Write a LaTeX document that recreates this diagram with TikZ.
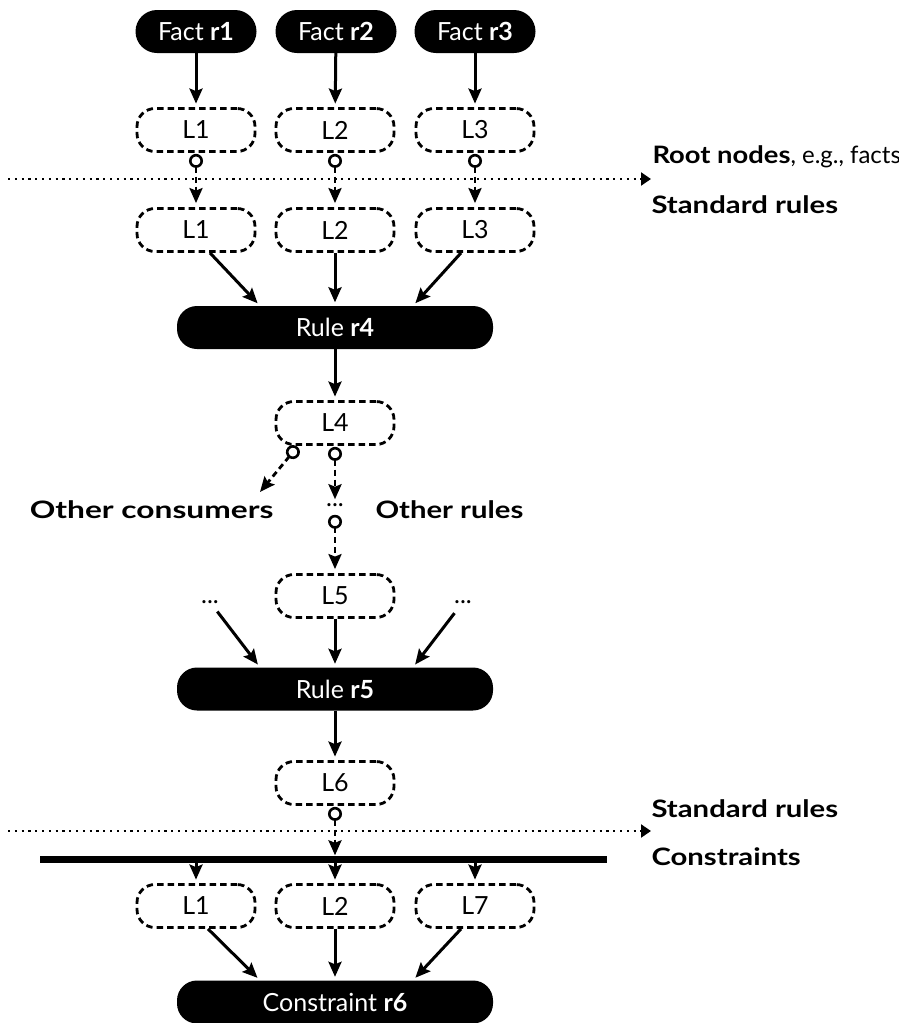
\documentclass[tikz,border=0pt]{standalone}
\usepackage{fontspec}
\setmainfont{Lato}
\newfontfamily\widefont[FakeStretch=1.22]{Lato}
\newfontfamily\rootfont[FakeStretch=1.14]{Lato}
\newfontfamily\widerfont[FakeStretch=1.32]{Lato}
\newcommand\heavy[1]{{\widefont\bfseries #1}}
\newcommand\heavier[1]{{\widerfont\bfseries #1}}
\usetikzlibrary{arrows.meta}

\tikzset{
  x=1pt, y=-1pt,
  every node/.style={font=\fontsize{25}{29}\selectfont},
  pill/.style={fill=black, text=white, inner sep=0pt, minimum height=43pt},
  fact/.style={pill, rounded corners=21.5pt, minimum width=121pt},
  rulebox/.style={pill, rounded corners=20pt, minimum width=316pt},
  lit/.style={draw, line width=2.8pt, dash pattern=on 6.5pt off 4pt,
    rounded corners=18pt, minimum width=118pt, minimum height=43pt, inner sep=0pt},
  tip/.tip={Stealth[length=15pt, width=13pt, inset=2.5pt]},
  solidarrow/.style={line width=3pt, -tip, shorten >=3.5pt},
  pass/.style={line width=2.8pt, dash pattern=on 6pt off 4pt,
    {Circle[open, length=14pt, width=14pt, line width=2.6pt]}-tip,
    shorten <=1pt, shorten >=4pt},
  dotline/.style={line width=2.2pt, dash pattern=on 2.2pt off 4.6pt,
    -{Triangle[length=10pt, width=13pt]}},
  lab/.style={font=\fontsize{24}{28}\selectfont},
  ellip/.style={inner sep=3pt}
}

\begin{document}
\begin{tikzpicture}
\useasboundingbox (0,0) rectangle (899,1023);

% facts
\node[fact] (f1) at (196,31.5) {Fact \textbf{r1}};
\node[fact] (f2) at (336,31.5) {Fact \textbf{r2}};
\node[fact] (f3) at (475,31.5) {Fact \textbf{r3}};

% literals produced by the facts
\node[lit] (a1) at (196,130) {L1};
\node[lit] (a2) at (335,130) {L2};
\node[lit] (a3) at (475,130) {L3};

% literals consumed by rule r4
\node[lit] (b1) at (196,230) {L1};
\node[lit] (b2) at (335,230) {L2};
\node[lit] (b3) at (475,230) {L3};

\node[rulebox] (r4) at (335,327.5) {Rule \textbf{r4}};
\node[lit] (l4) at (335,423) {L4};

\node[ellip] (m1) at (335,505) {...};
\coordinate (oc) at (260,492);
\node[lab, anchor=base east] (ocl) at (277,518) {\heavier{Other consumers}};
\node[lab, anchor=base west] (orl) at (372,518) {\heavy{Other rules}};

\node[lit] (l5) at (335,596) {L5};
\node[ellip] (dl) at (210,602) {...};
\node[ellip] (dr) at (463,602) {...};

\node[rulebox] (r5) at (335,689) {Rule \textbf{r5}};
\node[lit] (l6) at (335,783) {L6};

% barrier between standard rules and constraints
\node[fill=black, inner sep=0pt, minimum width=567pt, minimum height=7pt] (bar) at (323.5,859) {};

\node[lit] (c1) at (196,906) {L1};
\node[lit] (c2) at (335,906) {L2};
\node[lit] (c3) at (475,906) {L7};

\node[rulebox] (r6) at (335,1002) {Constraint \textbf{r6}};

% layer separators
\coordinate (s1a) at (8,179);
\coordinate (s1b) at (651,179);
\coordinate (s2a) at (8,831);
\coordinate (s2b) at (651,831);
\draw[dotline] (s1a) -- (s1b);
\draw[dotline] (s2a) -- (s2b);

\node[lab, anchor=base west] (t1) at (649,163) {{\rootfont\bfseries Root nodes}, e.g., facts};
\node[lab, anchor=base west] (t2) at (648,213) {\heavy{Standard rules}};
\node[lab, anchor=base west] (t3) at (648,817) {\heavy{Standard rules}};
\node[lab, anchor=base west] (t4) at (648,865) {\heavy{Constraints}};

% edges
\foreach \i in {1,2,3} {
  \draw[solidarrow] (f\i) -- (a\i);
  \draw[pass] (a\i) -- (b\i);
  \draw[solidarrow] (c\i.north |- bar.south) -- (c\i);
}
\draw[solidarrow] ([xshift=14pt]b1.south) -- ([xshift=-75pt]r4.north);
\draw[solidarrow] (b2) -- (r4);
\draw[solidarrow] ([xshift=-14pt]b3.south) -- ([xshift=78pt]r4.north);

\draw[solidarrow] (r4) -- (l4);
\draw[pass, shorten >=0pt] ([xshift=-37pt]l4.south) -- (oc);
\draw[pass, shorten >=1pt] (l4) -- (m1);
\draw[pass, shorten <=5pt] (m1) -- (l5);

\draw[solidarrow, shorten <=6pt] (dl) -- ([xshift=-75pt]r5.north);
\draw[solidarrow] (l5) -- (r5);
\draw[solidarrow, shorten <=8pt] (dr) -- ([xshift=78pt]r5.north);

\draw[solidarrow] (r5) -- (l6);
\draw[pass, shorten >=0pt] (l6) -- (l6.south |- bar.north);

\draw[solidarrow] ([xshift=12pt]c1.south) -- ([xshift=-75pt]r6.north);
\draw[solidarrow] (c2) -- (r6);
\draw[solidarrow] ([xshift=-14pt]c3.south) -- ([xshift=78pt]r6.north);
\end{tikzpicture}
\end{document}
